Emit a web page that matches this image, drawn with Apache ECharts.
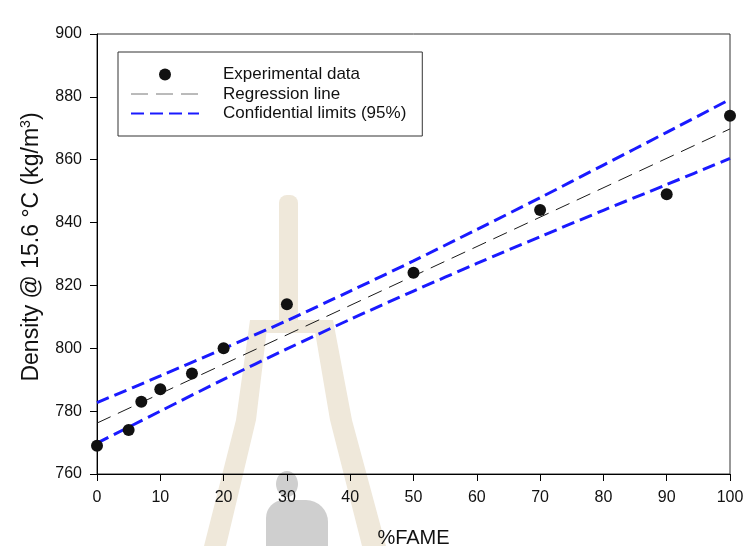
<!DOCTYPE html>
<html>
<head>
<meta charset="utf-8">
<script src="https://cdn.jsdelivr.net/npm/echarts@6/dist/echarts.min.js"></script>
<style>
  html, body { margin: 0; padding: 0; background: #ffffff; }
  #chart { width: 744px; height: 546px; }
</style>
</head>
<body>
<div id="chart"></div>
<script>
// Measured density of FAME blends
const fameFraction = [0, 5, 7, 10, 15, 20, 30, 50, 70, 90, 100];
const density = [769, 774, 783, 787, 792, 800, 814, 824, 844, 849, 874];

// Fitted regression line (end points)
const fitX = [0, 100];
const fitY = [776.2, 869.8];

// 95% confidence band
const bandX = [0, 10, 20, 30, 40, 50, 60, 70, 80, 90, 100];
const bandUpper = [782.7, 791.2, 799.9, 808.8, 818.2, 827.8, 837.8, 847.9, 858.3, 868.7, 879.2];
const bandLower = [769.8, 780.0, 790.1, 799.8, 809.2, 818.2, 827.0, 835.5, 843.9, 852.1, 860.4];

// Axis ticks
const xTicks = [0, 10, 20, 30, 40, 50, 60, 70, 80, 90, 100];
const yTicks = [760, 780, 800, 820, 840, 860, 880, 900];

const FONT = '"Liberation Sans", Arial, sans-serif';
const zip = (xs, ys) => xs.map((x, i) => [x, ys[i]]);

// faint page watermark (tower emblem and statue silhouette) behind the plot
const WM_BEIGE = '#efe8da';
const WM_GREY = '#cfcfcf';
const wmShape = (type, shape, fill, z) => ({ type, shape, z, silent: true, style: { fill } });
const watermark = [
  wmShape('rect', { x: 279, y: 195, width: 19, height: 130, r: [8, 8, 0, 0] }, WM_BEIGE, -10),
  wmShape('rect', { x: 250, y: 320, width: 83, height: 13 }, WM_BEIGE, -10),
  wmShape('polygon', { points: [[250, 320], [268, 320], [256, 420], [226, 546], [204, 546], [236, 420]] }, WM_BEIGE, -10),
  wmShape('polygon', { points: [[313, 320], [333, 320], [352, 420], [386, 546], [362, 546], [330, 420]] }, WM_BEIGE, -10),
  wmShape('ellipse', { cx: 287, cy: 484, rx: 11, ry: 13 }, WM_GREY, -9),
  wmShape('rect', { x: 266, y: 500, width: 62, height: 60, r: [18, 22, 0, 0] }, WM_GREY, -9)
];

const chart = echarts.init(document.getElementById('chart'), null, { renderer: 'canvas' });

chart.setOption({
  animation: false,
  backgroundColor: '#ffffff',
  graphic: watermark,
  grid: {
    left: 97, right: 14, top: 34, bottom: 72,
    outerBoundsMode: 'none',
    show: true, borderColor: '#333', borderWidth: 1, backgroundColor: 'transparent'
  },
  xAxis: {
    type: 'value',
    min: xTicks[0], max: xTicks[xTicks.length - 1], interval: 10,
    name: '%FAME', nameLocation: 'middle', nameGap: 54,
    nameTextStyle: { fontFamily: FONT, fontSize: 20, color: '#111' },
    axisLine: { show: true, onZero: false, lineStyle: { color: '#000', width: 1 } },
    axisTick: { show: true, inside: false, length: 7, lineStyle: { color: '#000' } },
    axisLabel: { fontFamily: FONT, fontSize: 16, color: '#111', margin: 16 },
    splitLine: { show: false }
  },
  yAxis: {
    type: 'value',
    min: yTicks[0], max: yTicks[yTicks.length - 1], interval: 20,
    name: 'Density @ 15.6 °C (kg/m{sup|3})', nameLocation: 'middle', nameGap: 53, nameRotate: 90,
    nameTextStyle: {
      fontFamily: FONT, fontSize: 23, color: '#111', lineHeight: 25, padding: [0, 0, 0, 14],
      rich: { sup: { fontFamily: FONT, fontSize: 14, color: '#111', verticalAlign: 'top', lineHeight: 14 } }
    },
    axisLine: { show: true, onZero: false, lineStyle: { color: '#000', width: 1 } },
    axisTick: { show: true, inside: false, length: 7, lineStyle: { color: '#000' } },
    axisLabel: { fontFamily: FONT, fontSize: 16, color: '#111', margin: 15 },
    splitLine: { show: false }
  },
  legend: {
    orient: 'vertical',
    left: 118, top: 52,
    padding: [14, 16, 14, 12],
    itemGap: 2.5,
    itemWidth: 68, itemHeight: 12,
    backgroundColor: '#ffffff', borderColor: '#333', borderWidth: 1,
    textStyle: { fontFamily: FONT, fontSize: 17, color: '#111', lineHeight: 16, padding: [0, 0, 0, 19] },
    data: [
      { name: 'Experimental data', icon: 'circle' },
      { name: 'Regression line', lineStyle: { color: '#777', width: 1, type: [17, 8] }, itemStyle: { opacity: 0 } },
      { name: 'Confidential limits (95%)', itemStyle: { opacity: 0 } }
    ]
  },
  series: [
    {
      name: 'Confidential limits (95%)', type: 'line', data: zip(bandX, bandUpper),
      symbol: 'none', smooth: 0.3, z: 2,
      lineStyle: { color: '#1a1aff', width: 3, type: [13, 6] },
      itemStyle: { color: '#1a1aff' }
    },
    {
      name: 'Confidential limits (95%)', type: 'line', data: zip(bandX, bandLower),
      symbol: 'none', smooth: 0.3, z: 2,
      lineStyle: { color: '#1a1aff', width: 3, type: [13, 6] },
      itemStyle: { color: '#1a1aff' }
    },
    {
      name: 'Regression line', type: 'line', data: zip(fitX, fitY),
      symbol: 'none', z: 3,
      lineStyle: { color: '#1a1a1a', width: 1, type: [15, 8] },
      itemStyle: { color: '#1a1a1a' }
    },
    {
      name: 'Experimental data', type: 'scatter', data: zip(fameFraction, density),
      symbol: 'circle', symbolSize: 12, z: 5,
      itemStyle: { color: '#111', opacity: 1 }
    }
  ]
});
</script>
</body>
</html>
